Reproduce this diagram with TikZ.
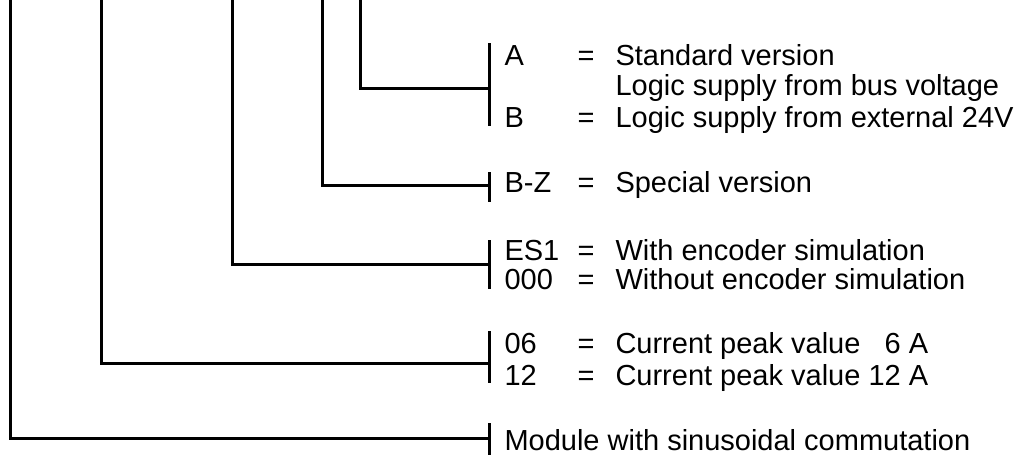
\documentclass[tikz,border=0pt]{standalone}
\usepackage{fontspec}
\setmainfont{Liberation Sans}
\usepackage{tikz}

\begin{document}
\begin{tikzpicture}[x=0.5pt,y=-0.5pt,line width=1.5pt,
   txt/.style={anchor=base west,inner sep=0pt,font=\fontsize{14.5}{16}\selectfont}]
   \useasboundingbox (0,0) rectangle (1024,455);

   % keys, = signs and meanings
   \draw (503,65) node[txt] (keyA) {A};
   \draw (576,65) node[txt] (eqA) {=};
   \draw (614,65) node[txt] (stdA) {Standard version};
   \draw (614,95.5) node[txt] (busA) {Logic supply from bus voltage};
   \draw (503,127) node[txt] (keyB) {B};
   \draw (576,127) node[txt] (eqB) {=};
   \draw (614,127) node[txt] (extB) {Logic supply from external 24V};

   \draw (503,192) node[txt] (keyBZ) {B-Z};
   \draw (576,192) node[txt] (eqBZ) {=};
   \draw (614,192) node[txt] (spBZ) {Special version};

   \draw (503,260) node[txt] (keyES) {ES1};
   \draw (576,260) node[txt] (eqES) {=};
   \draw (614,260) node[txt] (withES) {With encoder simulation};
   \draw (503,289) node[txt] (keyNo) {000};
   \draw (576,289) node[txt] (eqNo) {=};
   \draw (614,289) node[txt] (withoutNo) {Without encoder simulation};

   \draw (503,353) node[txt] (key06) {06};
   \draw (576,353) node[txt] (eq06) {=};
   \draw (614,353) node[txt] (cur06) {Current peak value \phantom{1}6 A};
   \draw (503,385) node[txt] (key12) {12};
   \draw (576,385) node[txt] (eq12) {=};
   \draw (614,385) node[txt] (cur12) {Current peak value 12 A};

   \draw (503,450) node[txt] (module) {Module with sinusoidal commutation};

   % brackets in front of the keys
   \coordinate (barAtop) at (489,43);  \coordinate (barAbot) at (489,126);
   \coordinate (barBZtop) at (489,172); \coordinate (barBZbot) at (489,202);
   \coordinate (barEStop) at (489,240); \coordinate (barESbot) at (489,289);
   \coordinate (bar06top) at (489,331); \coordinate (bar06bot) at (489,383);
   \coordinate (barMtop) at (489,423);  \coordinate (barMbot) at (489,455);
   \coordinate (joinA) at (489,88);
   \coordinate (joinBZ) at (489,185);
   \coordinate (joinES) at (489,264);
   \coordinate (join06) at (489,363);
   \coordinate (joinM) at (489,438);

   % lines coming down from the type code
   \coordinate (codeA) at (360,0);
   \coordinate (codeBZ) at (322,0);
   \coordinate (codeES) at (232,0);
   \coordinate (code06) at (101,0);
   \coordinate (codeM) at (10,0);

   \draw (barAtop) -- (barAbot);
   \draw (barBZtop) -- (barBZbot);
   \draw (barEStop) -- (barESbot);
   \draw (bar06top) -- (bar06bot);
   \draw (barMtop) -- (barMbot);

   \draw (codeA) |- (joinA);
   \draw (codeBZ) |- (joinBZ);
   \draw (codeES) |- (joinES);
   \draw (code06) |- (join06);
   \draw (codeM) |- (joinM);
\end{tikzpicture}
\end{document}
